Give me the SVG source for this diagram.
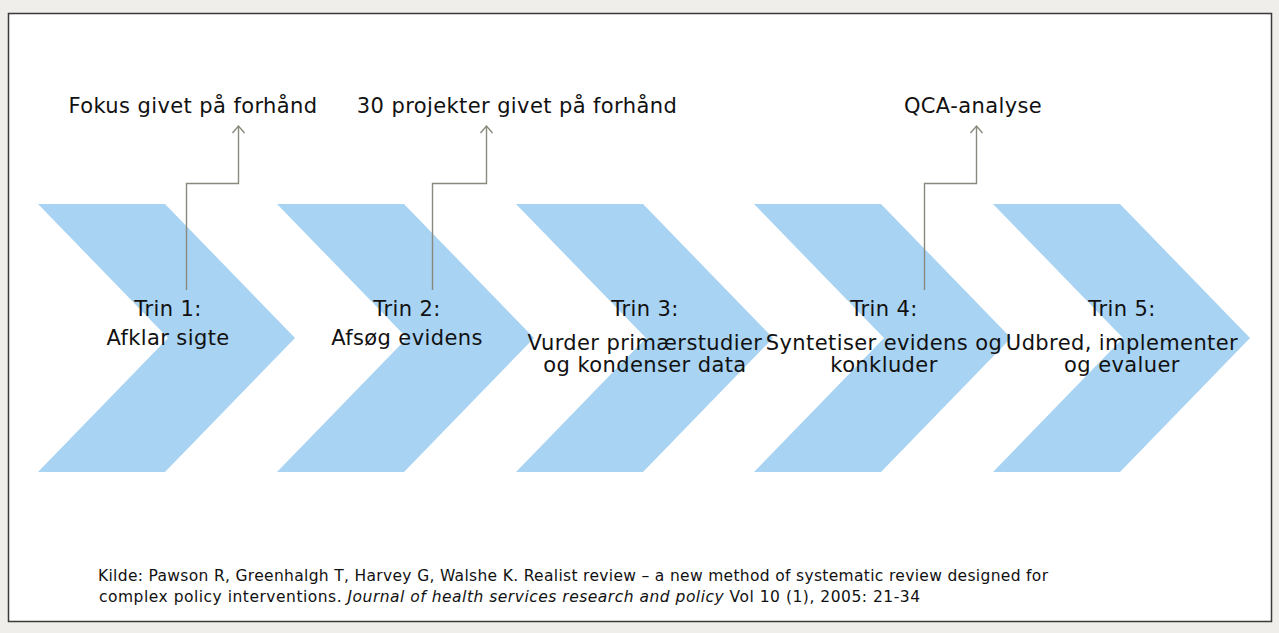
<svg xmlns="http://www.w3.org/2000/svg" width="1279" height="633" viewBox="0 0 1279 633">
<style>
.bg{fill:#f0eeea}
.panel{fill:#ffffff;stroke:#3a3a3a;stroke-width:1.5}
.chev{fill:#a8d3f3}
.t{font-family:"DejaVu Sans",Verdana,sans-serif;font-size:21px;letter-spacing:0.4px;fill:#111;text-anchor:middle}
.c{font-family:"DejaVu Sans",Verdana,sans-serif;font-size:15.5px;fill:#111}
.conn{fill:none;stroke:#8a897e;stroke-width:1.4}
</style>
<rect class="bg" x="0" y="0" width="1279" height="633"/>
<rect class="panel" x="8.5" y="13.5" width="1263" height="608"/>
<g id="step1"><polygon class="chev" points="38,204 165,204 295,338 165,472 38,472 168,338"/>
<text class="t" x="168" y="316">Trin 1:</text><text class="t" x="168" y="345">Afklar sigte</text></g>
<g id="step2"><polygon class="chev" points="277,204 404,204 534,338 404,472 277,472 407,338"/>
<text class="t" x="407" y="316">Trin 2:</text><text class="t" x="407" y="345">Afsøg evidens</text></g>
<g id="step3"><polygon class="chev" points="516,204 643,204 773,338 643,472 516,472 646,338"/>
<text class="t" x="645" y="316">Trin 3:</text><text class="t" x="645" y="350">Vurder primærstudier</text><text class="t" x="645" y="372">og kondenser data</text></g>
<g id="step4"><polygon class="chev" points="754,204 881,204 1011,338 881,472 754,472 884,338"/>
<text class="t" x="884" y="316">Trin 4:</text><text class="t" x="884" y="350">Syntetiser evidens og</text><text class="t" x="884" y="372">konkluder</text></g>
<g id="step5"><polygon class="chev" points="993,204 1120,204 1250,338 1120,472 993,472 1123,338"/>
<text class="t" x="1122" y="316">Trin 5:</text><text class="t" x="1122" y="350">Udbred, implementer</text><text class="t" x="1122" y="372">og evaluer</text></g>
<g id="note1"><text class="t" x="193" y="113">Fokus givet på forhånd</text></g>
<g id="note2"><text class="t" x="517" y="113">30 projekter givet på forhånd</text></g>
<g id="note4"><text class="t" x="973" y="113">QCA-analyse</text></g>
<g id="connectors">
<path class="conn" d="M186.5,290 V183.5 H238.5 V126"/>
<path class="conn" d="M232.5,133 L238.5,126 L244.5,133"/>
<path class="conn" d="M432.5,290 V183.5 H486.5 V126"/>
<path class="conn" d="M480.5,133 L486.5,126 L492.5,133"/>
<path class="conn" d="M924.5,290 V183.5 H976.5 V126"/>
<path class="conn" d="M970.5,133 L976.5,126 L982.5,133"/>
</g>
<g id="source">
<text class="c" x="98" y="581" textLength="950" lengthAdjust="spacing">Kilde: Pawson R, Greenhalgh T, Harvey G, Walshe K. Realist review – a new method of systematic review designed for</text>
<text class="c" x="99" y="602" textLength="821" lengthAdjust="spacing">complex policy interventions. <tspan font-style="italic">Journal of health services research and policy</tspan> Vol 10 (1), 2005: 21-34</text>
</g>
</svg>
